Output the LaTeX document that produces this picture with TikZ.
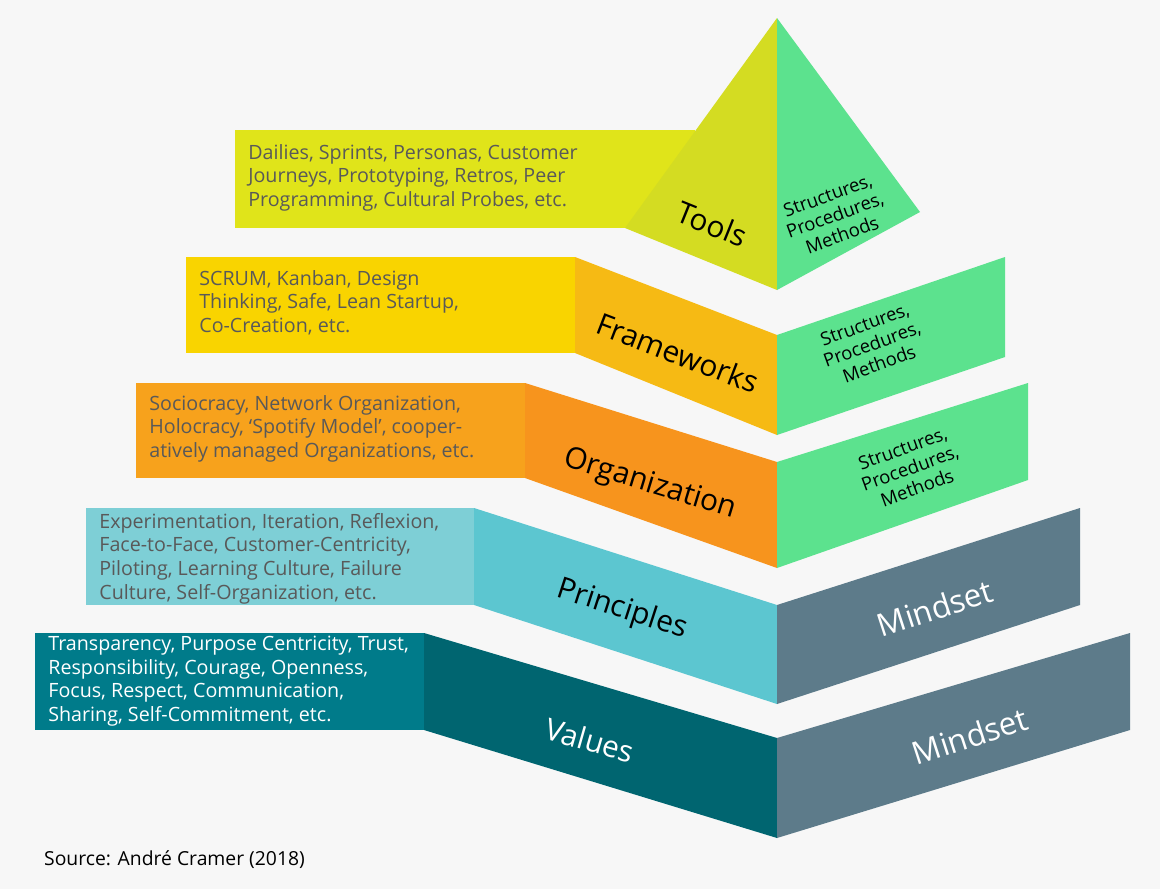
\documentclass[tikz,border=0pt]{standalone}
\usepackage{fontspec}
\setmainfont{Open Sans}
\begin{document}
\begin{tikzpicture}[x=0.02cm,y=-0.02cm,
 box/.style={anchor=north west,align=left,inner sep=0pt,font=\fontsize{11.2}{13.4}\selectfont,text=black!65},
 lab/.style={font=\fontsize{17}{18}\selectfont,text=black},
 mind/.style={font=\fontsize{18}{20}\selectfont,text=white,rotate=18},
 spm/.style={font=\fontsize{10.5}{12}\selectfont,align=center,text=black,rotate=20}]
\definecolor{bg}{HTML}{F7F7F7}
\definecolor{grn}{HTML}{5CE28E}
\definecolor{slate}{HTML}{5D7B8A}
\fill[bg] (0,0) rectangle (1160,889);
\useasboundingbox (0,0) rectangle (1160,889);
% Tools
\fill[color={rgb,255:red,224;green,228;blue,26}] (235,130) rectangle (695,228);
\fill[color={rgb,255:red,212;green,220;blue,34}] (777,18) -- (625,228) -- (777,290) -- cycle;
\fill[grn] (777,18) -- (920,212) -- (777,290) -- cycle;
\node[box] (tt) at (248,144) {Dailies, Sprints, Personas, Customer\\Journeys, Prototyping, Retros, Peer\\Programming, Cultural Probes, etc.};
\node[lab,rotate=-22] (tl) at (712,224) {Tools};
\node[spm] (ts) at (835,215) {Structures,\\Procedures,\\Methods};
% Frameworks
\fill[color={rgb,255:red,249;green,212;blue,0}] (186,257) rectangle (575,353);
\fill[color={rgb,255:red,246;green,186;blue,20}] (575,257) -- (777,335) -- (777,435) -- (575,353) -- cycle;
\fill[grn] (777,335) -- (1005,257) -- (1005,357) -- (777,435) -- cycle;
\node[box] (ft) at (199,270) {SCRUM, Kanban, Design\\Thinking, Safe, Lean Startup,\\Co-Creation, etc.};
\node[lab,rotate=-21] (fl) at (678,353) {Frameworks};
\node[spm] (fs) at (872,344) {Structures,\\Procedures,\\Methods};
% Organization
\fill[color={rgb,255:red,247;green,162;blue,28}] (136,383) rectangle (525,478);
\fill[color={rgb,255:red,247;green,148;blue,29}] (525,383) -- (777,462) -- (777,568) -- (525,478) -- cycle;
\fill[grn] (777,462) -- (1028,383) -- (1028,480) -- (777,568) -- cycle;
\node[box] (ot) at (149,395) {Sociocracy, Network Organization,\\Holocracy, `Spotify Model', cooper-\\atively managed Organizations, etc.};
\node[lab,rotate=-17] (ol) at (650,485) {Organization};
\node[spm] (os) at (910,468) {Structures,\\Procedures,\\Methods};
% Principles
\fill[color={rgb,255:red,126;green,207;blue,214}] (86,508) rectangle (474,605);
\fill[color={rgb,255:red,92;green,198;blue,208}] (474,508) -- (777,605) -- (777,704) -- (474,605) -- cycle;
\fill[slate] (777,605) -- (1080,508) -- (1080,605) -- (777,704) -- cycle;
\node[box] (pt) at (99,513) {Experimentation, Iteration, Reflexion,\\Face-to-Face, Customer-Centricity,\\Piloting, Learning Culture, Failure\\Culture, Self-Organization, etc.};
\node[lab,rotate=-18] (pl) at (622,610) {Principles};
\node[mind] (pm) at (935,608) {Mindset};
% Values
\fill[color={rgb,255:red,0;green,123;blue,138}] (35,633) rectangle (424,730);
\fill[color={rgb,255:red,0;green,101;blue,112}] (424,633) -- (777,738) -- (777,838) -- (424,730) -- cycle;
\fill[slate] (777,738) -- (1130,633) -- (1130,730) -- (777,838) -- cycle;
\node[box,text=white] (vt) at (48,636) {Transparency, Purpose Centricity, Trust,\\Responsibility, Courage, Openness,\\Focus, Respect, Communication,\\Sharing, Self-Commitment, etc.};
\node[lab,text=white,rotate=-16] (vl) at (590,740) {Values};
\node[mind] (vm) at (970,736) {Mindset};
\node[anchor=west,font=\fontsize{11}{13}\selectfont] (src) at (38,860) {Source: André Cramer (2018)};
\end{tikzpicture}
\end{document}
